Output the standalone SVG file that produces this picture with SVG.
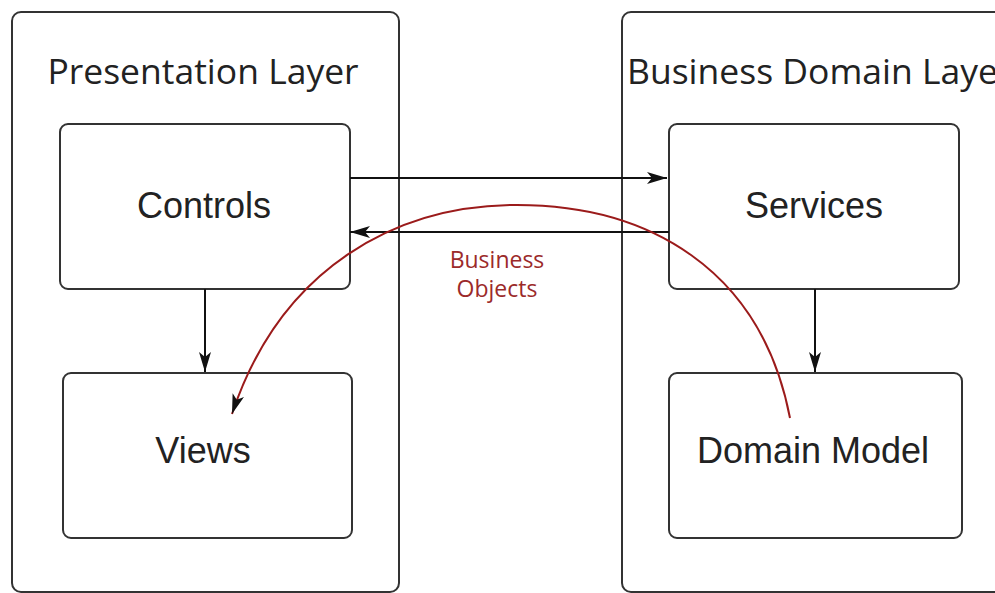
<svg xmlns="http://www.w3.org/2000/svg" width="995" height="593" viewBox="0 0 995 593">
<style>
.layer{fill:#fff;stroke:#333;stroke-width:2}
.box{fill:#fff;stroke:#333;stroke-width:2}
.title{font-family:"Open Sans","Liberation Sans",sans-serif;font-size:35.5px;fill:#222}
.lbl{font-family:"Liberation Sans",Arial,sans-serif;font-size:36px;fill:#222;text-anchor:middle}
.red{font-family:"Open Sans","Liberation Sans",sans-serif;font-size:23px;fill:#9b2a2a;text-anchor:middle}
.conn{fill:none;stroke:#111;stroke-width:2}
</style>
<defs>
<marker id="ah" viewBox="0 0 20 12" refX="20" refY="6" markerWidth="20" markerHeight="12" markerUnits="userSpaceOnUse" orient="auto">
<path d="M0,0 L20,6 L0,12 L5,6 Z" fill="#111"/>
</marker>
<marker id="ahr" viewBox="0 0 20 12" refX="20" refY="6" markerWidth="20" markerHeight="12" markerUnits="userSpaceOnUse" orient="auto">
<path d="M0,0 L20,6 L0,12 L5,6 Z" fill="#111"/>
</marker>
</defs>
<g id="presentation-layer">
<rect class="layer" x="12" y="12" width="387" height="580" rx="9"/>
<text class="title" x="203" y="84" text-anchor="middle">Presentation Layer</text>
</g>
<g id="business-domain-layer">
<rect class="layer" x="622" y="12" width="400" height="580" rx="9"/>
<text class="title" x="627" y="84">Business Domain Layer</text>
</g>
<g id="controls">
<rect class="box" x="60" y="124" width="290" height="165" rx="8"/>
<text class="lbl" x="204" y="218">Controls</text>
</g>
<g id="views">
<rect class="box" x="63" y="373" width="289" height="165" rx="8"/>
<text class="lbl" x="203" y="463">Views</text>
</g>
<g id="services">
<rect class="box" x="669" y="124" width="290" height="165" rx="8"/>
<text class="lbl" x="814" y="218">Services</text>
</g>
<g id="domain-model">
<rect class="box" x="669" y="373" width="293" height="165" rx="8"/>
<text class="lbl" x="813" y="463">Domain Model</text>
</g>
<g id="connectors">
<path class="conn" d="M350,178 L667,178" marker-end="url(#ah)"/>
<path class="conn" d="M669,232 L350,232" stroke="#555" marker-end="url(#ah)"/>
<path class="conn" d="M205,289 L205,372" marker-end="url(#ah)"/>
<path class="conn" d="M815,289 L815,372" marker-end="url(#ah)"/>
<path d="M790,418 C761,268 647,205 517,205 C397,205 281,267 232,414" fill="none" stroke="#9b1b1b" stroke-width="2" marker-end="url(#ahr)"/>
<text class="red" x="497" y="268">Business</text>
<text class="red" x="497" y="297">Objects</text>
</g>
</svg>
